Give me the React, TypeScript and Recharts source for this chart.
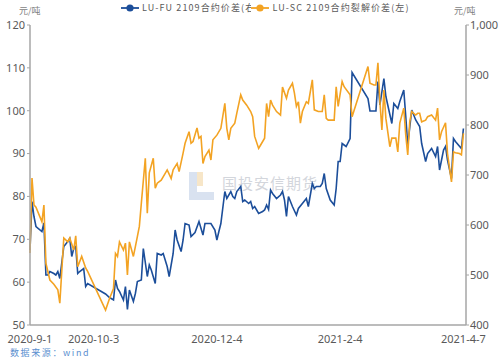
import { Line, LineChart, XAxis, YAxis } from 'recharts';

// x values are calendar days counted from 2020-9-1
const dateTicks = [0, 32, 94, 156, 218];
const dateLabels = ['2020-9-1', '2020-10-3', '2020-12-4', '2021-2-4', '2021-4-7'];
const leftTicks = [50, 60, 70, 80, 90, 100, 110, 120];
const rightTicks = [400, 500, 600, 700, 800, 900, 1000];

// LU-FU 2109 spread, right axis
const fuDays = [
  0, 1, 2, 3, 6, 7, 8, 9, 10, 12, 13, 14, 15, 17, 19, 20, 21, 22, 23, 24, 25, 27, 28, 29,
  38, 40, 42, 43, 44, 45, 47, 48, 49, 50, 52, 53, 54, 56, 57, 59, 60, 61, 63, 64, 66, 67, 69, 70,
  72, 73, 74, 76, 77, 78, 80, 81, 83, 85, 87, 88, 90, 91, 93, 94, 95, 96, 98, 99, 101, 102, 103, 104,
  106, 107, 108, 110, 111, 112, 113, 115, 117, 118, 119, 120, 121, 122, 124, 126, 127, 128, 129, 130,
  132, 134, 135, 137, 139, 140, 142, 143, 144, 146, 147, 148, 149, 151, 153, 154, 155, 156, 157, 158,
  159, 161, 162, 170, 171, 174, 175, 176, 178, 179, 182, 183, 185, 186, 188, 189, 190, 192, 193, 194,
  196, 197, 199, 200, 202, 204, 205, 206, 208, 209, 210, 212, 213, 214, 217, 218,
];
const fuValues = [
  550, 647, 617, 597, 587, 604, 500, 500, 507, 503, 500, 507, 493, 557, 567, 573, 537, 553, 557, 503, 507, 513, 477, 483,
  462, 455, 450, 490, 473, 467, 450, 477, 431, 470, 447, 463, 487, 490, 553, 497, 520, 510, 483, 543, 540, 543, 517, 497,
  543, 590, 570, 547, 570, 603, 600, 577, 585, 607, 580, 603, 603, 603, 590, 570, 587, 603, 667, 653, 667, 657, 653, 667,
  677, 647, 650, 643, 647, 633, 637, 623, 627, 630, 640, 631, 670, 663, 653, 660, 667, 650, 617, 657,
  637, 620, 633, 643, 653, 637, 683, 673, 677, 677, 683, 703, 673, 650, 640, 673, 727, 727, 763, 760,
  757, 773, 905, 853, 828, 828, 887, 840, 893, 857, 803, 843, 833, 847, 870, 817, 760, 830, 820, 810,
  797, 763, 727, 743, 753, 737, 757, 710, 750, 757, 730, 693, 773, 767, 753, 793,
];

// LU-SC 2109 crack spread, left axis
const scDays = [
  0, 1, 2, 3, 6, 7, 8, 10, 12, 14, 15, 17, 19, 20, 22, 23, 24, 26, 28, 29,
  38, 40, 42, 43, 44, 45, 47, 48, 49, 50, 52, 53, 54, 55, 56, 58, 59, 60, 62, 63, 64, 66, 68, 69,
  71, 72, 74, 75, 77, 78, 80, 81, 82, 84, 85, 86, 87, 88, 90, 91, 92, 94, 96, 98, 99, 100, 101, 103,
  104, 106, 107, 109, 111, 112, 113, 115, 116, 118, 119, 120, 121, 122, 124, 126, 127, 129, 130, 132,
  133, 134, 135, 136, 137, 139, 140, 142, 143, 145, 147, 148, 149, 150, 153, 154, 155, 157, 158, 161,
  162, 170, 171, 173, 174, 175, 176, 177, 178, 179, 181, 182, 184, 185, 186, 188, 189, 190, 191, 192,
  194, 195, 196, 197, 199, 200, 202, 204, 205, 206, 207, 209, 210, 212, 213, 214, 216, 217, 218,
];
const scValues = [
  66.8, 84.3, 78, 77.5, 74.1, 78, 64.4, 60.5, 59.5, 58.2, 55.1, 70.3, 69.4, 70.3, 67.5, 70.8, 63.6, 66, 63.3, 62.5,
  53.5, 56.2, 58.5, 66.7, 66, 69.4, 67.5, 69.1, 61.7, 69.4, 66, 68.3, 70.6, 73, 78.4, 88.9, 76.1, 85.5, 88.9, 81.9, 83.1, 83.8, 85.4, 86.2,
  84.2, 86.2, 87.7, 85.8, 90.1, 92.4, 95.1, 92.4, 92.8, 96, 93.6, 94, 87.7, 89.3, 90.8, 88.5, 93.2, 94.3, 95.9, 101.7, 95.9, 93.2, 95.9, 97.1,
  99.4, 103.7, 102.5, 101.3, 99.8, 98.6, 94, 91.2, 92, 93.6, 101.7, 98.6, 102.5, 101.3, 99.8, 99, 105.5, 102.9, 104.8, 106.4,
  104.1, 101, 102.1, 97.1, 99.8, 102.1, 101.7, 107.2, 100.2, 99.8, 99.8, 103.7, 98.2, 97.8, 97.8, 105.6, 101, 106.8, 105.6, 103.7,
  98.6, 110.3, 106.4, 106, 106, 111.2, 102.1, 95.5, 104.8, 98.2, 91.6, 93.6, 93.6, 90.4, 97.1, 100.6, 94.3, 89.7, 97.4, 99.8,
  99, 99.4, 99.4, 97.4, 97.8, 98.6, 99, 97.8, 100.6, 93.2, 95.1, 97.2, 90, 83.4, 90.4, 90.2, 90, 89.7, 94.7,
];

const BLUE = '#1C4E9A';
const ORANGE = '#F3A323';
const AXIS = '#A6A6A6';
const TICK = '#595959';

const allDays = Array.from(new Set([...fuDays, ...scDays])).sort((a, b) => a - b);
const rows = allDays.map((day) => {
  const fi = fuDays.indexOf(day);
  const si = scDays.indexOf(day);
  return { day, fu: fi >= 0 ? fuValues[fi] : null, sc: si >= 0 ? scValues[si] : null };
});

const smallText = { position: 'absolute' as const, fontFamily: '"Noto Sans CJK SC", sans-serif', fontSize: 9, whiteSpace: 'nowrap' as const };

function LegendMark({ color }: { color: string }) {
  return (
    <svg width={18} height={10} style={{ verticalAlign: 'middle', flexShrink: 0 }}>
      <line x1={0} y1={5} x2={18} y2={5} stroke={color} strokeWidth={1.8} />
      <circle cx={9} cy={5} r={3.6} fill={color} />
    </svg>
  );
}

export default function App() {
  return (
    <div style={{ position: 'absolute', left: 0, top: 0, width: 500, height: 363, background: '#fff' }}>
      {/* watermark */}
      <div style={{ position: 'absolute', left: 189, top: 172, width: 14, height: 14, background: '#F7E6C8' }} />
      <div style={{ position: 'absolute', left: 189, top: 172, width: 8, height: 28, background: '#D9E2F0' }} />
      <div style={{ position: 'absolute', left: 189, top: 192, width: 25, height: 8, background: '#D9E2F0' }} />
      <div style={{ ...smallText, left: 222, top: 172, fontSize: 15, color: '#D3D6DC', letterSpacing: 1 }}>国投安信期货</div>

      <div style={{ ...smallText, left: 19, top: 4, color: '#7F7F7F' }}>元/吨</div>
      <div style={{ ...smallText, left: 454, top: 4, color: '#7F7F7F' }}>元/吨</div>

      <div style={{ ...smallText, left: 121, top: 1, color: TICK, letterSpacing: 1.1, display: 'flex', alignItems: 'center' }}>
        <LegendMark color={BLUE} />
        <span style={{ marginLeft: 3 }}>LU-FU 2109合约价差(右)</span>
        <span style={{ marginLeft: -8, background: '#fff', display: 'inline-flex' }}>
          <LegendMark color={ORANGE} />
        </span>
        <span style={{ marginLeft: 3 }}>LU-SC 2109合约裂解价差(左)</span>
      </div>

      <div style={{ ...smallText, left: 10, top: 346, color: '#5B8FCF', letterSpacing: 1.6 }}>数据来源：wind</div>

      <div style={{ position: 'absolute', left: 0, top: 0 }}>
        <LineChart width={500} height={363} data={rows} margin={{ top: 25, right: 0, bottom: 0, left: 0 }}>
          <XAxis
            dataKey="day"
            type="number"
            domain={[0, 219.3]}
            ticks={dateTicks}
            interval={0}
            tickFormatter={(v) => dateLabels[dateTicks.indexOf(Number(v))] ?? ''}
            axisLine={{ stroke: AXIS, strokeWidth: 1.5 }}
            tickLine={false}
            tickMargin={4}
            height={38}
            tick={{ fill: TICK, fontSize: 11, fontFamily: 'Noto Sans' }}
          />
          <YAxis
            yAxisId="left"
            domain={[50, 120]}
            ticks={leftTicks}
            interval={0}
            width={30}
            axisLine={{ stroke: AXIS, strokeWidth: 1.5 }}
            tickLine={{ stroke: AXIS }}
            tickSize={3}
            tickMargin={2}
            tick={{ fill: TICK, fontSize: 11, fontFamily: 'Noto Sans' }}
          />
          <YAxis
            yAxisId="right"
            orientation="right"
            domain={[400, 1000]}
            ticks={rightTicks}
            interval={0}
            width={34}
            axisLine={{ stroke: AXIS, strokeWidth: 1.5 }}
            tickLine={{ stroke: AXIS }}
            tickSize={3}
            tickMargin={1}
            tickFormatter={(v) => Number(v).toLocaleString('en-US')}
            tick={{ fill: TICK, fontSize: 11, fontFamily: 'Noto Sans' }}
          />
          <Line yAxisId="right" type="linear" dataKey="fu" stroke={BLUE} strokeWidth={1.6} dot={false} connectNulls isAnimationActive={false} />
          <Line yAxisId="left" type="linear" dataKey="sc" stroke={ORANGE} strokeWidth={1.6} dot={false} connectNulls isAnimationActive={false} />
        </LineChart>
      </div>
    </div>
  );
}
